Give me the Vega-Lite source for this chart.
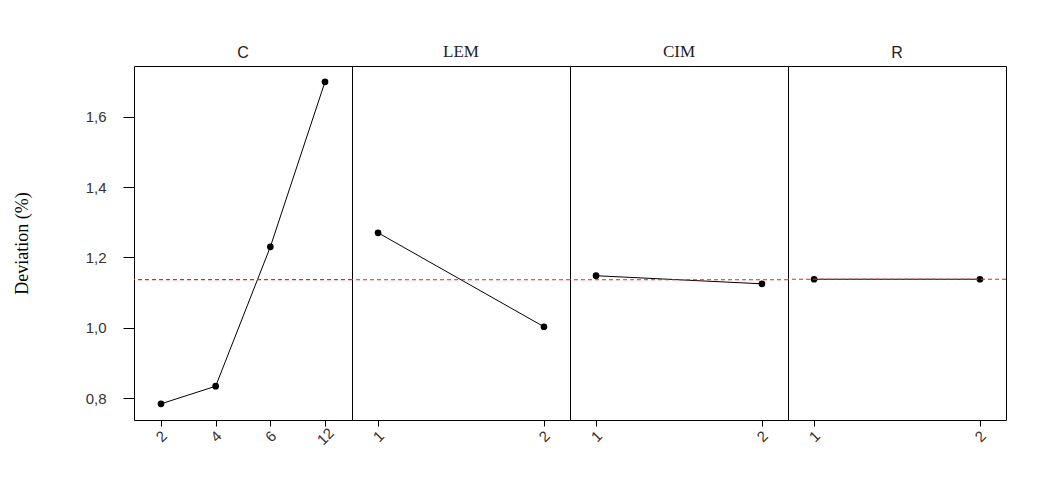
{
  "$schema": "https://vega.github.io/schema/vega-lite/v6.json",
  "background": "white",
  "padding": {"left": 12, "top": 42, "right": 10, "bottom": 10},
  "spacing": 0,
  "bounds": "flush",
  "datasets": {
    "main": [
      {"factor": "C", "level": 2, "deviation": 0.784},
      {"factor": "C", "level": 4, "deviation": 0.834},
      {"factor": "C", "level": 6, "deviation": 1.23},
      {"factor": "C", "level": 12, "deviation": 1.699},
      {"factor": "LEM", "level": 1, "deviation": 1.27},
      {"factor": "LEM", "level": 2, "deviation": 1.003},
      {"factor": "CIM", "level": 1, "deviation": 1.148},
      {"factor": "CIM", "level": 2, "deviation": 1.125},
      {"factor": "R", "level": 1, "deviation": 1.138},
      {"factor": "R", "level": 2, "deviation": 1.138}
    ]
  },
  "config": {
    "view": {"stroke": "black", "strokeWidth": 1},
    "axis": {"grid": false, "domainColor": "black", "tickColor": "black", "labelFont": "Liberation Sans", "labelFontSize": 15, "labelColor": "#333"},
    "title": {"fontWeight": "normal", "fontSize": 16, "color": "#222", "offset": 5}
  },
  "hconcat": [
    {
      "width": 218, "height": 354,
      "title": {"text": "C", "font": "Liberation Sans"},
      "data": {"name": "main"},
      "transform": [{"filter": "datum.factor == 'C'"}],
      "layer": [
        {"mark": {"type": "line", "color": "black", "strokeWidth": 1, "point": {"filled": true, "color": "black", "size": 45, "opacity": 1}}, "encoding": {
          "x": {"field": "level", "type": "ordinal", "sort": [2, 4, 6, 12], "scale": {"type": "point", "padding": 0.494}, "axis": {"title": null, "labelAngle": -45, "labelAlign": "center", "labelBaseline": "middle", "labelPadding": 10, "tickSize": 6, "domain": false}},
          "y": {"field": "deviation", "type": "quantitative", "scale": {"domain": [0.738, 1.744], "nice": false, "zero": false}, "axis": {"title": "Deviation (%)", "titleFont": "Liberation Serif", "titleFontSize": 18, "titleFontWeight": "normal", "titleColor": "black", "titlePadding": 54, "values": [0.8, 1.0, 1.2, 1.4, 1.6], "labelExpr": "replace(format(datum.value, '.1f'), '.', ',')", "tickSize": 11, "labelPadding": 17, "domain": false}}
        }},
        {"mark": {"type": "rule", "color": "#ff1a1a", "strokeDash": [4, 3], "strokeWidth": 1.2}, "encoding": {"y": {"aggregate": "mean", "field": "deviation", "type": "quantitative"}}}
      ]
    },
    {
      "width": 218, "height": 354,
      "title": {"text": "LEM", "font": "Liberation Serif", "fontSize": 17},
      "data": {"name": "main"},
      "transform": [{"filter": "datum.factor == 'LEM'"}],
      "layer": [
        {"mark": {"type": "line", "color": "black", "strokeWidth": 1, "point": {"filled": true, "color": "black", "size": 45, "opacity": 1}}, "encoding": {
          "x": {"field": "level", "type": "ordinal", "scale": {"type": "point", "padding": 0.157}, "axis": {"title": null, "labelAngle": -45, "labelAlign": "center", "labelBaseline": "middle", "labelPadding": 10, "tickSize": 6, "domain": false}},
          "y": {"field": "deviation", "type": "quantitative", "scale": {"domain": [0.738, 1.744], "nice": false, "zero": false}, "axis": null}
        }},
        {"mark": {"type": "rule", "color": "#ff1a1a", "strokeDash": [4, 3], "strokeWidth": 1.2}, "encoding": {"y": {"aggregate": "mean", "field": "deviation", "type": "quantitative"}}}
      ]
    },
    {
      "width": 218, "height": 354,
      "title": {"text": "CIM", "font": "Liberation Serif", "fontSize": 17},
      "data": {"name": "main"},
      "transform": [{"filter": "datum.factor == 'CIM'"}],
      "layer": [
        {"mark": {"type": "line", "color": "black", "strokeWidth": 1, "point": {"filled": true, "color": "black", "size": 45, "opacity": 1}}, "encoding": {
          "x": {"field": "level", "type": "ordinal", "scale": {"type": "point", "padding": 0.157}, "axis": {"title": null, "labelAngle": -45, "labelAlign": "center", "labelBaseline": "middle", "labelPadding": 10, "tickSize": 6, "domain": false}},
          "y": {"field": "deviation", "type": "quantitative", "scale": {"domain": [0.738, 1.744], "nice": false, "zero": false}, "axis": null}
        }},
        {"mark": {"type": "rule", "color": "#ff1a1a", "strokeDash": [4, 3], "strokeWidth": 1.2}, "encoding": {"y": {"aggregate": "mean", "field": "deviation", "type": "quantitative"}}}
      ]
    },
    {
      "width": 218, "height": 354,
      "title": {"text": "R", "font": "Liberation Sans"},
      "data": {"name": "main"},
      "transform": [{"filter": "datum.factor == 'R'"}],
      "layer": [
        {"mark": {"type": "line", "color": "black", "strokeWidth": 1, "point": {"filled": true, "color": "black", "size": 45, "opacity": 1}}, "encoding": {
          "x": {"field": "level", "type": "ordinal", "scale": {"type": "point", "padding": 0.157}, "axis": {"title": null, "labelAngle": -45, "labelAlign": "center", "labelBaseline": "middle", "labelPadding": 10, "tickSize": 6, "domain": false}},
          "y": {"field": "deviation", "type": "quantitative", "scale": {"domain": [0.738, 1.744], "nice": false, "zero": false}, "axis": null}
        }},
        {"mark": {"type": "rule", "color": "#ff1a1a", "strokeDash": [4, 3], "strokeWidth": 1.2}, "encoding": {"y": {"aggregate": "mean", "field": "deviation", "type": "quantitative"}}}
      ]
    }
  ]
}
